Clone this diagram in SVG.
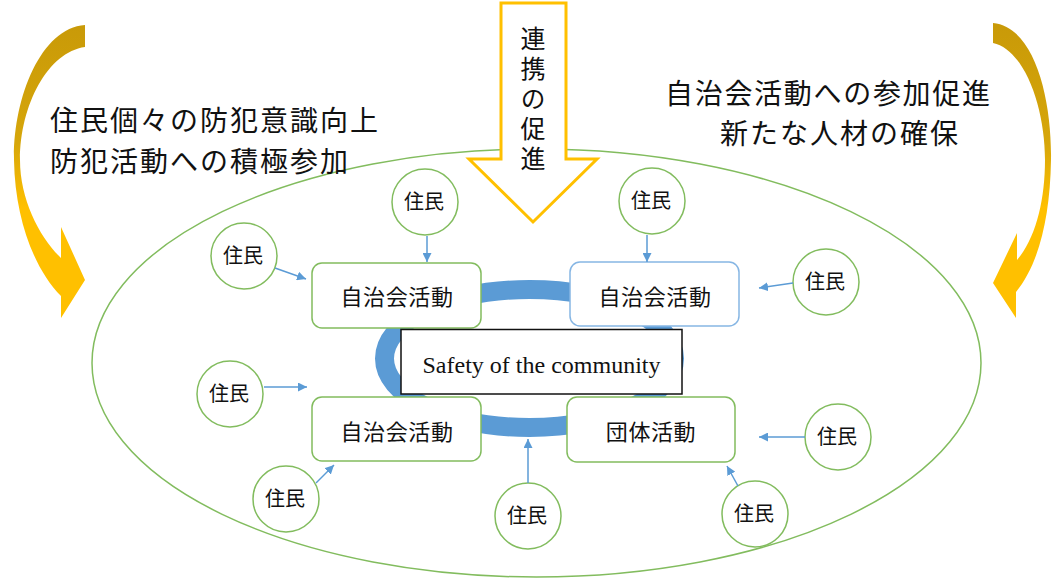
<svg xmlns="http://www.w3.org/2000/svg" width="1057" height="579" viewBox="0 0 1057 579">
<defs>
<style>
.jp{font-family:"Noto Sans CJK JP","Noto Sans CJK SC",sans-serif;fill:#111}
.res{fill:#fff;stroke:#82BC5E;stroke-width:1.5}
.box{fill:#fff;stroke:#82BC5E;stroke-width:1.5}
.boxb{fill:#fff;stroke:#86B6E4;stroke-width:1.5}
.lbl{font-size:20px;text-anchor:middle}
.btx{font-size:22px;text-anchor:middle;letter-spacing:0.6px}
.big{font-size:28px}
.conn line{stroke:#5B9BD5;stroke-width:1.5;marker-end:url(#ah)}
</style>
<marker id="ah" viewBox="0 0 10 10" refX="10" refY="5" markerWidth="9" markerHeight="9" markerUnits="userSpaceOnUse" orient="auto">
<path d="M0,0 L10,5 L0,10 z" fill="#5B9BD5"/>
</marker>
<linearGradient id="gold" gradientUnits="userSpaceOnUse" x1="0" y1="25" x2="0" y2="320">
<stop offset="0" stop-color="#C99A08"/>
<stop offset="0.4" stop-color="#D6A60A"/>
<stop offset="0.62" stop-color="#FFC000"/>
<stop offset="1" stop-color="#FFC000"/>
</linearGradient>
</defs>
<rect width="1057" height="579" fill="#fff"/>

<g id="community-ellipse">
<ellipse cx="536.5" cy="363" rx="444.5" ry="214" fill="none" stroke="#82BC5E" stroke-width="1.5"/>
</g>

<g id="left-arrow">
<path d="M85,25 C40,28 13,100 14,160 C15,220 35,270 61,296 L61,318 L85,280 L61,227 L61,258 C40,238 20,200 20,160 C20,105 48,52 85,47 Z" fill="url(#gold)"/>
</g>
<g id="right-arrow">
<path d="M993,23 C1035,27 1052,100 1051,160 C1050,220 1038,265 1016,292 L1016,318 L993,283 L1017,233 L1017,260 C1036,238 1045,200 1045,160 C1045,108 1025,50 993,43 Z" fill="url(#gold)"/>
</g>

<g id="left-text">
<text class="jp big" x="50" y="130.5" letter-spacing="2">住民個々の防犯意識向上</text>
<text class="jp big" x="50" y="171.5" letter-spacing="2">防犯活動への積極参加</text>
</g>
<g id="right-text">
<text class="jp big" x="665" y="103.5" letter-spacing="1.7">自治会活動への参加促進</text>
<text class="jp big" x="720" y="143.5" letter-spacing="2">新たな人材の確保</text>
</g>

<g id="center-arrow">
<polygon points="501,3 566,3 566,159 597,159 533,222 469,159 501,159" fill="#fff" stroke="#FFC000" stroke-width="3" stroke-linejoin="miter"/>
<text class="jp" x="533" y="26" font-size="25" writing-mode="vertical-rl" letter-spacing="5">連携の促進</text>
</g>

<g id="ring">
<ellipse cx="529.5" cy="358.5" rx="145" ry="69" fill="none" stroke="#5B9BD5" stroke-width="19"/>
</g>

<g id="box-a">
<rect class="box" x="312" y="263" width="169" height="65" rx="10"/>
<text class="jp btx" x="397" y="305">自治会活動</text>
</g>
<g id="box-b">
<rect class="boxb" x="570" y="262" width="169" height="64" rx="10"/>
<text class="jp btx" x="655" y="305">自治会活動</text>
</g>
<g id="box-c">
<rect class="box" x="312" y="397" width="169" height="64" rx="10"/>
<text class="jp btx" x="397" y="440">自治会活動</text>
</g>
<g id="box-d">
<rect class="box" x="567" y="397" width="168" height="65" rx="10"/>
<text class="jp btx" x="651" y="440">団体活動</text>
</g>

<g id="center-box">
<rect x="401" y="329.5" width="281" height="64.5" fill="#fff" stroke="#111" stroke-width="1.5"/>
<text x="541.5" y="372.5" font-family="Liberation Serif, serif" font-size="24" text-anchor="middle" fill="#111">Safety of the community</text>
</g>

<g id="resident-1"><circle class="res" cx="425" cy="202" r="33"/><text class="jp lbl" x="424" y="209">住民</text></g>
<g id="resident-2"><circle class="res" cx="244" cy="256" r="33"/><text class="jp lbl" x="243" y="263">住民</text></g>
<g id="resident-3"><circle class="res" cx="652" cy="201" r="33"/><text class="jp lbl" x="651" y="208">住民</text></g>
<g id="resident-4"><circle class="res" cx="826" cy="282" r="33"/><text class="jp lbl" x="825" y="289">住民</text></g>
<g id="resident-5"><circle class="res" cx="230" cy="394" r="33"/><text class="jp lbl" x="229" y="401">住民</text></g>
<g id="resident-6"><circle class="res" cx="286" cy="499" r="33"/><text class="jp lbl" x="285" y="506">住民</text></g>
<g id="resident-7"><circle class="res" cx="528" cy="516" r="33"/><text class="jp lbl" x="527" y="523">住民</text></g>
<g id="resident-8"><circle class="res" cx="755" cy="514" r="33"/><text class="jp lbl" x="754" y="521">住民</text></g>
<g id="resident-9"><circle class="res" cx="838" cy="437" r="33"/><text class="jp lbl" x="837" y="444">住民</text></g>

<g id="connectors" class="conn">
<line x1="427" y1="236" x2="427" y2="262"/>
<line x1="275" y1="268" x2="306" y2="279"/>
<line x1="647" y1="235" x2="647" y2="262"/>
<line x1="793" y1="283" x2="759" y2="288"/>
<line x1="264" y1="387" x2="307" y2="387"/>
<line x1="316" y1="483" x2="334" y2="465"/>
<line x1="528" y1="483" x2="528" y2="439"/>
<line x1="738" y1="486" x2="727" y2="466"/>
<line x1="805" y1="437" x2="759" y2="437"/>
</g>
</svg>
